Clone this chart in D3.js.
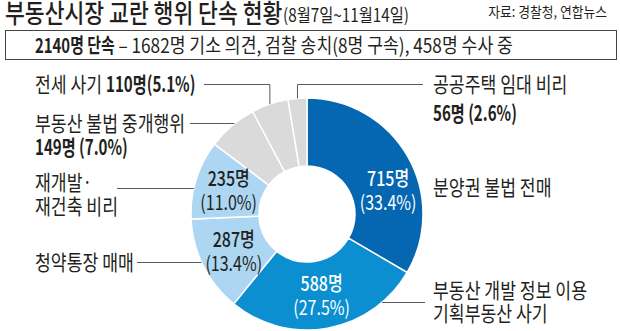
<!DOCTYPE html>
<html><head><meta charset="utf-8">
<script src="https://cdn.jsdelivr.net/npm/d3@7/dist/d3.min.js"></script>
<style>
html,body{margin:0;padding:0;background:#fff;}
svg{display:block;font-family:"Noto Sans CJK KR","Noto Sans",sans-serif;}
</style></head><body>
<svg id="c" width="620" height="331"></svg>
<script>
// ---- data ----
const categories = ["분양권 불법 전매","부동산 개발 정보 이용 기획부동산 사기","청약통장 매매","재개발·재건축 비리","부동산 불법 중개행위","전세 사기","공공주택 임대 비리"];
const counts = [715, 588, 287, 235, 149, 110, 56];
const percents = ["33.4%","27.5%","13.4%","11.0%","7.0%","5.1%","2.6%"];
const colors = ["#0566b1","#0b8fd1","#acd6f1","#acd6f1","#dadada","#dadada","#dadada"];
const titleText = "부동산시장 교란 행위 단속 현황";
const periodText = "(8월7일~11월14일)";
const sourceText = "자료: 경찰청, 연합뉴스";
const summaryBold = "2140명 단속";
const summaryRest = " – 1682명 기소 의견, 검찰 송치(8명 구속), 458명 수사 중";

const svg = d3.select("#c");
const SX = 0.82, SXB = 0.72;
const ink = "#231f20";

function txt(x, y, parts, size, opts = {}) {
  // parts: [text, weight, scaleX]; placed one after another
  let cur = x;
  const anchor = opts.anchor || "start";
  parts.forEach(p => {
    const sx = p[2] || opts.sx || SX;
    const t = svg.append("text")
      .attr("text-anchor", anchor)
      .attr("font-size", size)
      .attr("font-weight", p[1] || 400)
      .attr("fill", opts.fill || ink)
      .attr("xml:space", "preserve")
      .style("white-space", "pre")
      .text(p[0]);
    t.attr("transform", `translate(${cur},${y}) scale(${sx},1)`);
    cur += t.node().getComputedTextLength() * sx;
  });
}

// header
txt(5, 23, [[titleText, 500]], 26, {sx: 0.83});
txt(283, 22, [[periodText, 400]], 18, {sx: 0.85});
txt(607, 17, [[sourceText, 400]], 14, {anchor: "end", sx: 0.915});
svg.append("rect").attr("x", 5.5).attr("y", 30.5).attr("width", 611).attr("height", 29)
  .attr("fill", "none").attr("stroke", "#444").attr("stroke-width", 1);
txt(35, 53, [[summaryBold, 700, 0.745], [summaryRest, 400, 0.86]], 20);

// donut
const cx = 307, cy = 214, R = 116, r0 = 48;
const pie = d3.pie().sort(null).value(d => d);
const arcs = pie(counts);
const arc = d3.arc().innerRadius(r0).outerRadius(R);
const g = svg.append("g").attr("transform", `translate(${cx},${cy})`);
g.selectAll("path").data(arcs).join("path")
  .attr("d", arc)
  .attr("fill", (d, i) => colors[i])
  .attr("stroke", "#fff").attr("stroke-width", 1.5);

// inner labels
const labelArc = d3.arc().innerRadius(82).outerRadius(82);
const innerShift = [[10, 17], [0, 0], [0, 0], [0, 0]];
const innerFill = ["#fff", "#fff", ink, ink];
[0, 1, 2, 3].forEach(i => {
  const c = labelArc.centroid(arcs[i]);
  const x = cx + c[0] + innerShift[i][0], y = cy + c[1] + innerShift[i][1];
  txt(x, y - 4, [[counts[i] + "명", 500]], 20, {anchor: "middle", fill: innerFill[i], sx: 0.8});
  txt(x, y + 20, [["(" + percents[i] + ")", 400]], 20, {anchor: "middle", fill: innerFill[i], sx: 0.8});
});

// leader lines
const lc = "#5a5a5a";
function hLine(i, y, xText) {
  const dy = y - cy;
  const dx = Math.sqrt(R * R - dy * dy);
  const mid = (arcs[i].startAngle + arcs[i].endAngle) / 2;
  const xe = cx + (Math.sin(mid) >= 0 ? dx : -dx);
  svg.append("line").attr("x1", xe).attr("x2", xText).attr("y1", y).attr("y2", y)
    .attr("stroke", lc).attr("stroke-width", 1);
}
function elbow(i, y, xText) {
  const mid = (arcs[i].startAngle + arcs[i].endAngle) / 2;
  const px = cx + R * Math.sin(mid), py = cy - R * Math.cos(mid);
  svg.append("polyline")
    .attr("points", `${px},${py} ${px},${y} ${xText},${y}`)
    .attr("fill", "none").attr("stroke", lc).attr("stroke-width", 1);
}
hLine(1, 302.5, 425);
hLine(2, 262.5, 137);
hLine(3, 188.5, 117);
hLine(4, 123.5, 190);
elbow(5, 84.5, 204);
elbow(6, 84.5, 423);

// outer labels
const FS = 21;
txt(35, 92, [["전세 사기 ", 400], ["110명(5.1%)", 700, SXB]], FS);
txt(35, 131, [["부동산 불법 중개행위", 400]], FS);
txt(35, 155, [["149명 (7.0%)", 700, SXB]], FS);
txt(35, 190, [["재개발·", 400]], FS);
txt(35, 214, [["재건축 비리", 400]], FS);
txt(35, 270, [["청약통장 매매", 400]], FS);
txt(433, 92, [["공공주택 임대 비리", 400]], FS);
txt(433, 121, [["56명 (2.6%)", 700, SXB]], FS);
txt(433, 195, [["분양권 불법 전매", 400]], FS);
txt(433, 298, [["부동산 개발 정보 이용", 400]], FS);
txt(433, 321, [["기획부동산 사기", 400]], FS);
</script>
</body></html>
